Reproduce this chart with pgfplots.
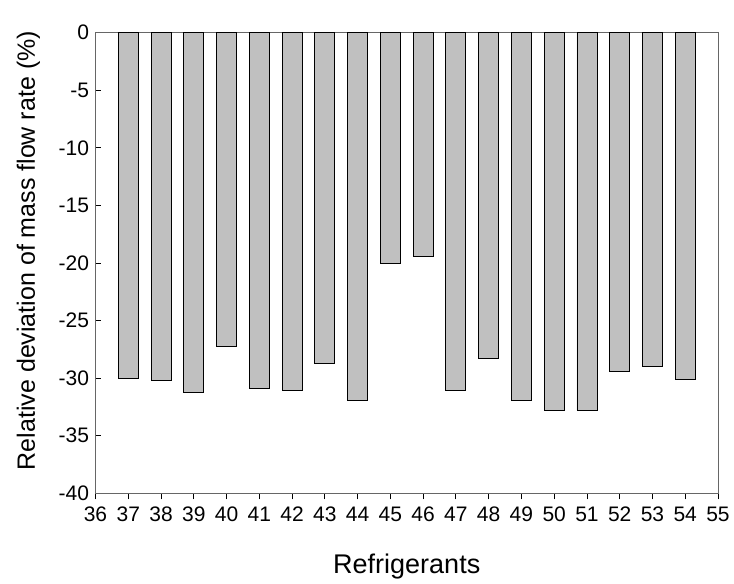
\documentclass[border=0pt]{standalone}
\usepackage{pgfplots}
\pgfplotsset{compat=1.18}
\usepackage{fontspec}
\setmainfont{Liberation Sans}
\begin{document}
\begin{tikzpicture}
\begin{axis}[
  scale only axis,
  width=622.5pt, height=460.6pt,
  xmin=36, xmax=55, ymin=-40, ymax=0,
  xtick={36,...,55}, ytick={-40,-35,...,0},
  tick pos=left, tick align=inside,
  major tick length=6pt,
  axis line style={draw=black!60, line width=1pt},
  tick style={black, line width=0.8pt},
  ticklabel style={font=\fontsize{21}{24}\selectfont},
  /pgf/number format/assume math mode=true,
  xticklabel style={yshift=-4pt},
  yticklabel style={xshift=-3pt},
  xlabel={Refrigerants}, ylabel={Relative deviation of mass flow rate (\%)},
  xlabel style={font=\fontsize{27}{32}\selectfont, at={(axis description cs:0.5,0)}, anchor=center, yshift=-73pt},
  ylabel style={font=\fontsize{25}{30}\selectfont, at={(axis description cs:0,0.527)}, anchor=center, yshift=67pt},
  ybar, bar width=20pt,
  clip=false,
]
\addplot[fill={rgb,255:red,192;green,192;blue,192}, draw=black, line width=0.8pt] coordinates {
(37,-30.0) (38,-30.2) (39,-31.2) (40,-27.2) (41,-30.9) (42,-31.1) (43,-28.7) (44,-31.9) (45,-20.05)
(46,-19.4) (47,-31.05) (48,-28.3) (49,-31.95) (50,-32.8) (51,-32.8) (52,-29.45) (53,-29.0) (54,-30.1)
};
\end{axis}
\useasboundingbox ([xshift=-95.5pt,yshift=-90pt]current axis.south west) rectangle ([xshift=16pt,yshift=32.7pt]current axis.north east);
\end{tikzpicture}
\end{document}
